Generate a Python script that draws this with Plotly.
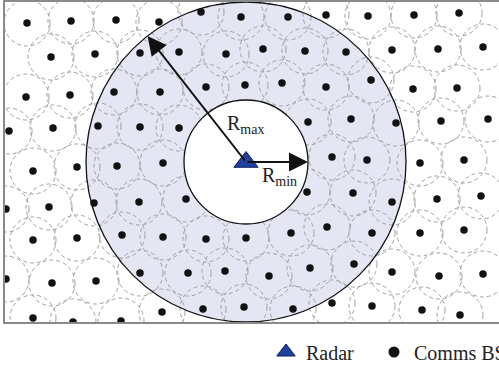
import math
import plotly.graph_objects as go

# ---- data (positions in layout units) ----
bs_x = [27, 71, 116, 159, 201, 241, 288, 326, 368, 414, 459,
        51, 95, 140, 179, 226, 263, 305, 346, 392, 438, 483,
        26, 70, 114, 160, 206, 245, 282, 326, 371, 413, 457,
        9, 53, 98, 140, 179, 308, 351, 396, 441, 488,
        33, 77, 117, 163, 332, 367, 420, 464,
        6, 49, 94, 139, 186, 307, 353, 392, 437, 481,
        33, 77, 122, 163, 206, 246, 291, 327, 372, 420, 464,
        6, 52, 96, 140, 188, 225, 269, 310, 354, 392, 439, 483,
        33, 73, 121, 162, 203, 244, 293, 332, 372, 422, 460]
bs_y = [23, 21, 20, 22, 12, 17, 17, 15, 16, 15, 13,
        57, 54, 53, 52, 54, 49, 51, 52, 50, 49, 47,
        97, 95, 92, 92, 87, 85, 83, 87, 80, 89, 88,
        131, 128, 126, 127, 128, 122, 119, 123, 121, 119,
        171, 167, 166, 163, 157, 160, 163, 160,
        209, 207, 203, 202, 199, 192, 193, 202, 199, 196,
        240, 238, 235, 237, 239, 238, 233, 227, 233, 233, 230,
        279, 283, 281, 273, 273, 271, 276, 268, 264, 272, 276, 274,
        318, 322, 321, 312, 309, 307, 309, 303, 306, 310, 315]
cell_radius = 23

radar_x = [246]
radar_y = [162]
r_min = 62
r_max = 160
r_max_angle_deg = 128

x_range = [5, 499]
y_range = [322, 2]

FONT = "Liberation Serif"
cx, cy = radar_x[0], radar_y[0]

shapes = []
shapes.append(dict(type="circle", xref="x", yref="y", layer="below",
                   x0=cx - r_max, x1=cx + r_max, y0=cy - r_max, y1=cy + r_max,
                   fillcolor="#e4e7f3", line=dict(width=0)))
for x, y in zip(bs_x, bs_y):
    shapes.append(dict(type="circle", xref="x", yref="y", layer="below",
                       x0=x - cell_radius, x1=x + cell_radius,
                       y0=y - cell_radius, y1=y + cell_radius,
                       line=dict(color="#a0a0a0", width=1, dash="4px,3px")))
shapes.append(dict(type="circle", xref="x", yref="y", layer="below",
                   x0=cx - r_min, x1=cx + r_min, y0=cy - r_min, y1=cy + r_min,
                   fillcolor="white", line=dict(color="#111", width=1.3)))
shapes.append(dict(type="circle", xref="x", yref="y", layer="below",
                   x0=cx - r_max, x1=cx + r_max, y0=cy - r_max, y1=cy + r_max,
                   line=dict(color="#111", width=1.3)))

fig = go.Figure()
fig.add_trace(go.Scatter(x=bs_x, y=bs_y, mode="markers", showlegend=False,
                         marker=dict(size=7.5, color="#111"), hoverinfo="skip"))
fig.add_trace(go.Scatter(x=radar_x, y=radar_y, mode="markers", name="Radar",
                         legend="legend",
                         marker=dict(symbol="triangle-up", size=21, color="#1f409e",
                                     line=dict(color="#0e1e5a", width=1))))
fig.add_trace(go.Scatter(x=[None], y=[None], mode="markers", name="Comms BS",
                         legend="legend2",
                         marker=dict(size=11, color="#111")))

ang = math.radians(r_max_angle_deg)
annotations = [
    dict(x=cx + r_max * math.cos(ang), y=cy - r_max * math.sin(ang),
         ax=cx, ay=cy, xref="x", yref="y", axref="x", ayref="y",
         text="", showarrow=True, arrowhead=2, arrowsize=1.9, arrowwidth=2,
         arrowcolor="#111", standoff=0),
    dict(x=cx + r_min, y=cy, ax=cx, ay=cy, xref="x", yref="y", axref="x", ayref="y",
         text="", showarrow=True, arrowhead=2, arrowsize=1.9, arrowwidth=2,
         arrowcolor="#111", standoff=0),
    dict(x=245, y=124, xref="x", yref="y", text="R<sub>max</sub>", showarrow=False,
         font=dict(family=FONT, size=20, color="#222")),
    dict(x=279, y=176, xref="x", yref="y", text="R<sub>min</sub>", showarrow=False,
         font=dict(family=FONT, size=20, color="#222")),
]

legend_common = dict(orientation="h", xref="container", yref="container",
                     y=1 - 352 / 368, xanchor="left", yanchor="middle",
                     font=dict(family=FONT, size=20, color="#222"),
                     bgcolor="rgba(0,0,0,0)")

fig.update_layout(
    width=499, height=368,
    margin=dict(l=5, r=0, t=2, b=46),
    paper_bgcolor="white", plot_bgcolor="white",
    shapes=shapes, annotations=annotations,
    xaxis=dict(range=x_range, showgrid=False, zeroline=False, showticklabels=False,
               ticks="", showline=True, mirror=True, linecolor="#8a8a8a", linewidth=1.5),
    yaxis=dict(range=y_range, showgrid=False, zeroline=False, showticklabels=False,
               ticks="", showline=True, linecolor="#8a8a8a", linewidth=1.5),
    legend=dict(x=266 / 499, **legend_common),
    legend2=dict(x=374 / 499, **legend_common),
    showlegend=True,
)

fig.write_html("out.html",
               config={"displayModeBar": False},
               post_script="document.body.style.margin='0';"
                           "document.body.style.overflow='hidden';")
